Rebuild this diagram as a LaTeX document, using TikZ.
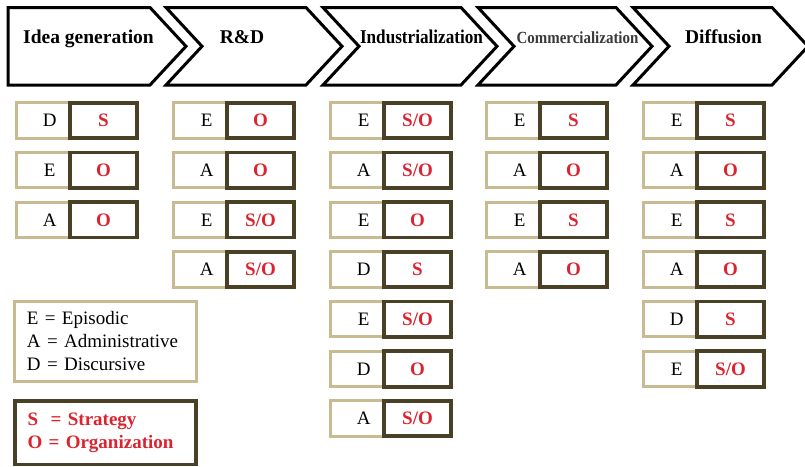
\documentclass[tikz,border=0pt]{standalone}
\usepackage{fontspec}
\setmainfont{Liberation Serif}
\usepackage{graphicx}

\definecolor{sandline}{HTML}{C8BB92}
\definecolor{darkline}{HTML}{4A4026}
\definecolor{keyred}{HTML}{DC2430}
\definecolor{stagegray}{HTML}{3A3A3A}

\tikzset{
  stage/.style={draw=black, line width=3pt, line join=miter, fill=white},
  stagetext/.style={anchor=base, inner sep=0pt, font=\fontsize{19.5}{22}\selectfont\bfseries},
  lcell/.style={draw=sandline, line width=3pt, fill=white,
    minimum width=53.5pt, minimum height=35.5pt, inner sep=0pt,
    text height=12.6pt, text depth=0pt,
    font=\fontsize{19}{22}\selectfont, execute at begin node={\hspace*{13pt}}},
  rcell/.style={draw=darkline, line width=3.8pt,
    minimum width=67pt, minimum height=35.5pt, inner sep=0pt,
    text height=12.6pt, text depth=0pt, text=keyred,
    font=\fontsize{19}{22}\selectfont\bfseries},
  keybox/.style={line width=3pt, fill=white, align=left, inner xsep=12.5pt,
    font=\fontsize{19}{23.3}\selectfont}
}

% one column of letter pairs: #1 name prefix, #2 left edge, #3 pairs
\newcommand\paircolumn[3]{%
  \foreach \lt/\rt [count=\i] in {#3} {
    \pgfmathsetmacro\rowy{120.5+(\i-1)*49.67}
    \node[lcell] (#1-\i-l) at (#2+28.25,\rowy) {\lt};
    \node[rcell] (#1-\i-r) at (#2+88.5,\rowy) {\rt};
  }%
}

\begin{document}
\begin{tikzpicture}[x=1pt,y=-1pt]
\useasboundingbox (0,0) rectangle (805,466);
\clip (0,0) rectangle (805,466);

% stage arrows
\draw[stage] (8,7.5) -- (150,7.5) -- (186,46.3) -- (150,85) -- (8,85) -- cycle;
\foreach \a/\b in {166/306, 323/461, 478/616, 633/772}
  \draw[stage] (\a,7.5) -- (\b,7.5) -- (\b+36,46.3) -- (\b,85) -- (\a,85) -- (\a+36,46.3) -- cycle;

\node[stagetext] (s1) at (88.5,43) {Idea generation};
\node[stagetext] (s2) at (242,43) {R\&D};
\node[stagetext] (s3) at (421.5,43) {\scalebox{0.88}[1]{Industrialization}};
\node[stagetext, text=stagegray, font=\fontsize{17}{20}\selectfont\bfseries] (s4) at (577.5,43) {\scalebox{0.88}[1]{Commercialization}};
\node[stagetext] (s5) at (723.5,43) {Diffusion};

% letter pairs under each stage
\paircolumn{c1}{15}{D/S, E/O, A/O}
\paircolumn{c2}{172}{E/O, A/O, E/{S/O}, A/{S/O}}
\paircolumn{c3}{329}{E/{S/O}, A/{S/O}, E/O, D/S, E/{S/O}, D/O, A/{S/O}}
\paircolumn{c4}{485}{E/S, A/O, E/S, A/O}
\paircolumn{c5}{642}{E/S, A/O, E/S, A/O, D/S, E/{S/O}}

% keys
\node[keybox, draw=sandline, minimum width=182pt, minimum height=80pt, text width=157pt]
  (key1) at (105.5,341) {E = Episodic\\A = Administrative\\D = Discursive};
\node[keybox, draw=darkline, line width=3.5pt, minimum width=181pt, minimum height=63.5pt,
  text width=156pt, text=keyred, font=\fontsize{19}{22.5}\selectfont\bfseries]
  (key2) at (105.5,432.75) {S\ \ = Strategy\\O = Organization};
\end{tikzpicture}
\end{document}
